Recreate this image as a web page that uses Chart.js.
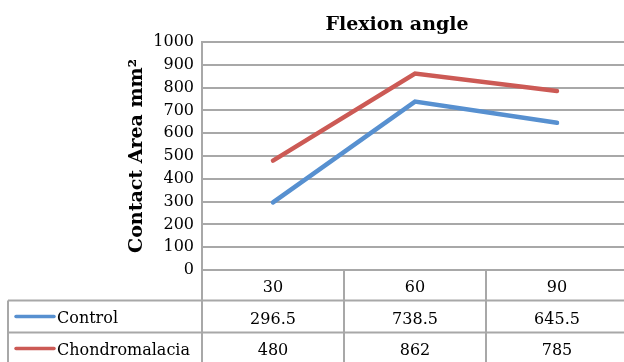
<!DOCTYPE html>
<html>
<head>
<meta charset="utf-8">
<script src="https://cdn.jsdelivr.net/npm/chart.js@4/dist/chart.umd.min.js"></script>
<style>
  html, body { margin: 0; padding: 0; background: #fff; overflow: hidden; }
  #wrap { width: 630px; height: 362px; }
</style>
</head>
<body>
<div id="wrap"><canvas id="myChart" width="630" height="362"></canvas></div>
<script>
// data
const angles = ['30', '60', '90'];
const control = [296.5, 738.5, 645.5];
const chondromalacia = [480, 862, 785];
const controlLabels = ['296.5', '738.5', '645.5'];
const chondroLabels = ['480', '862', '785'];
const seriesNames = ['Control', 'Chondromalacia'];

const blue = '#5790d0';
const red = '#cc5a55';
const grid = '#a8a8a8';
const serif = "'DejaVu Serif', 'Liberation Serif', serif";

// title and data table under the plot
const tablePlugin = {
    id: 'tablePlugin',
    afterDraw(chart) {
        const ctx = chart.ctx;
        const area = chart.chartArea;
        const x = chart.scales.x;
        const half = (x.getPixelForValue(1) - x.getPixelForValue(0)) / 2;

        ctx.save();
        // title
        ctx.fillStyle = '#000';
        ctx.font = 'bold 19px ' + serif;
        ctx.textAlign = 'center';
        ctx.textBaseline = 'alphabetic';
        ctx.fillText('Flexion angle', 397, 30);

        const top = area.bottom;
        const r1 = top + 30.5;
        const r2 = r1 + 32;
        const r3 = r2 + 32;
        const leftEdge = 8;

        ctx.strokeStyle = grid;
        ctx.lineWidth = 2;
        ctx.beginPath();
        // horizontal lines
        ctx.moveTo(area.left, top); ctx.lineTo(chart.width, top);
        ctx.moveTo(leftEdge, r1); ctx.lineTo(chart.width, r1);
        ctx.moveTo(leftEdge, r2); ctx.lineTo(chart.width, r2);
        ctx.moveTo(leftEdge, r3); ctx.lineTo(chart.width, r3);
        // vertical lines
        ctx.moveTo(leftEdge, r1); ctx.lineTo(leftEdge, chart.height);
        for (let i = 0; i < angles.length; i++) {
            const bx = x.getPixelForValue(i) - half;
            ctx.moveTo(bx, top); ctx.lineTo(bx, chart.height);
        }
        ctx.stroke();

        ctx.fillStyle = '#000';
        ctx.font = '16px ' + serif;
        ctx.textBaseline = 'middle';
        ctx.textAlign = 'center';
        angles.forEach((a, i) => {
            const cx = x.getPixelForValue(i);
            ctx.fillText(a, cx, top + 18);
            ctx.fillText(controlLabels[i], cx, r1 + 19);
            ctx.fillText(chondroLabels[i], cx, r2 + 18);
        });

        // legend keys
        const rows = [[r1 + 16, blue], [r2 + 16, red]];
        rows.forEach((r, i) => {
            ctx.strokeStyle = r[1];
            ctx.lineWidth = 3.5;
            ctx.lineCap = 'round';
            ctx.beginPath();
            ctx.moveTo(16, r[0]);
            ctx.lineTo(54, r[0]);
            ctx.stroke();
            ctx.textAlign = 'left';
            ctx.fillText(seriesNames[i], 57, r[0] + 2);
        });
        ctx.restore();
    }
};

const myChart = new Chart(document.getElementById('myChart'), {
    type: 'line',
    data: {
        labels: angles,
        datasets: [{
            label: seriesNames[0],
            data: control,
            borderColor: blue,
            backgroundColor: blue,
            borderWidth: 4.5,
            borderCapStyle: 'round',
            pointRadius: 0,
            tension: 0
        }, {
            label: seriesNames[1],
            data: chondromalacia,
            borderColor: red,
            backgroundColor: red,
            borderWidth: 4.5,
            borderCapStyle: 'round',
            pointRadius: 0,
            tension: 0
        }]
    },
    options: {
        responsive: false,
        animation: false,
        layout: { padding: { top: 42, bottom: 92, right: 2, left: 0 } },
        plugins: {
            legend: { display: false },
            title: { display: false },
            tooltip: { enabled: false }
        },
        scales: {
            x: {
                display: false,
                offset: true
            },
            y: {
                min: 0,
                max: 1000,
                ticks: {
                    stepSize: 100,
                    color: '#000',
                    padding: 8,
                    font: { family: serif, size: 16 },
                    callback: (v) => String(v)
                },
                grid: {
                    color: grid,
                    lineWidth: 2,
                    drawTicks: false
                },
                border: { color: grid, width: 2 },
                title: {
                    display: true,
                    text: 'Contact Area mm²',
                    color: '#000',
                    font: { family: serif, size: 19, weight: 'bold' },
                    padding: { top: 126, bottom: 0 }
                },
                afterFit(scale) { scale.width = 202; }
            }
        }
    },
    plugins: [tablePlugin]
});
</script>
</body>
</html>
